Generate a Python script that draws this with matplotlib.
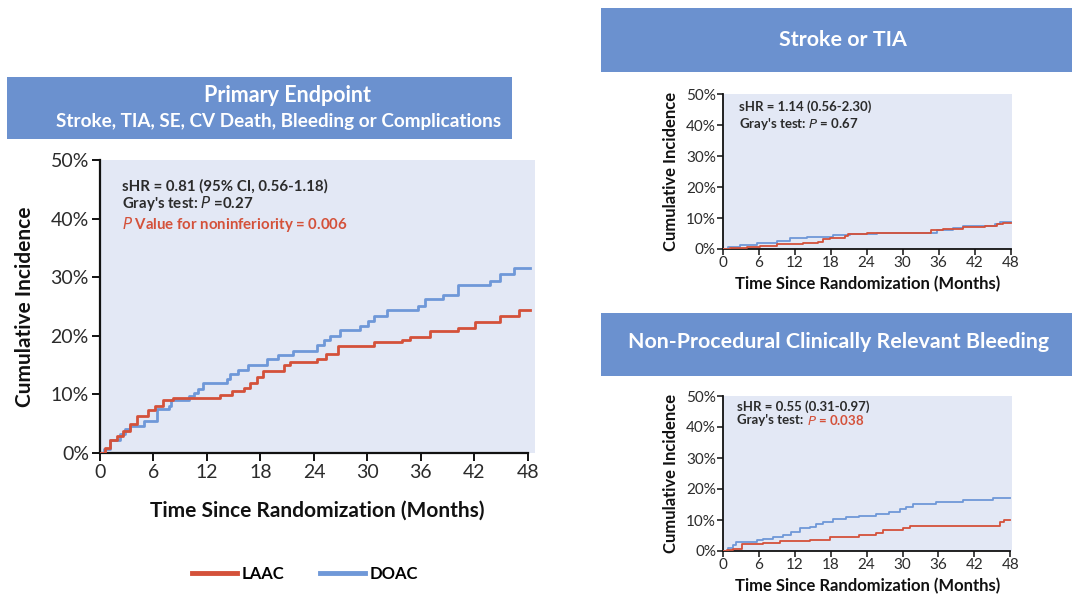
import matplotlib
matplotlib.use("Agg")
import matplotlib.pyplot as plt
from matplotlib.patches import Rectangle
from matplotlib.lines import Line2D
from matplotlib.ticker import FuncFormatter

plt.rcParams["font.family"] = ["Lato", "DejaVu Sans"]

W, H = 1072, 599
RED = "#d4513a"
BLUE = "#6f98d8"
HEAD = "#6b91cf"
BG = "#e3e8f5"
INK = "#2b2b2b"

# ── data (% cumulative incidence vs months) ───────────────────────────────────
main_laac_t = [0, 0.6, 1.1, 1.9, 2.6, 3.4, 4.1, 5.4, 6.2, 7.1, 8.2, 13.5, 14.8, 16.1,
               16.8, 17.6, 18.3, 20.6, 21.3, 24.3, 25.3, 26.7, 30.7, 33.9, 34.8, 37.0,
               40.2, 42.1, 44.9, 47.0, 48.2]
main_laac_y = [0, 0.9, 2.3, 2.9, 3.7, 4.9, 6.3, 7.4, 8.0, 9.0, 9.4, 9.9, 10.5, 11.1,
               12.0, 12.9, 14.0, 15.0, 15.5, 16.1, 16.9, 18.2, 18.9, 19.3, 19.8, 20.9,
               21.4, 22.4, 23.4, 24.4, 24.4]
main_doac_t = [0, 0.4, 1.1, 2.2, 2.8, 3.4, 4.9, 6.4, 7.7, 8.0, 10.0, 10.5, 11.0, 11.6,
               14.2, 14.6, 15.5, 16.6, 18.7, 20.0, 21.7, 24.3, 25.1, 25.8, 26.9, 29.2,
               30.1, 30.7, 32.2, 35.7, 36.5, 38.5, 40.2, 43.8, 44.9, 46.4, 48.2]
main_doac_y = [0, 0.7, 2.3, 3.3, 4.1, 4.6, 5.4, 7.5, 8.0, 9.1, 9.7, 10.3, 11.0, 12.0,
               12.6, 13.4, 14.2, 15.1, 16.1, 16.7, 17.4, 18.4, 19.3, 20.0, 21.0, 21.6,
               22.6, 23.4, 24.4, 25.1, 26.3, 27.0, 28.7, 29.4, 30.6, 31.5, 31.5]

stroke_laac_t = [0, 1.2, 4.0, 6.2, 9.0, 12.9, 13.4, 15.9, 16.8, 17.9, 20.4, 20.9, 24.0,
                 34.7, 36.8, 40.1, 43.7, 45.7, 46.8, 48.0]
stroke_laac_y = [0, 0.2, 0.8, 1.1, 1.5, 1.7, 2.1, 2.4, 3.2, 3.6, 4.2, 4.8, 5.1,
                 6.2, 6.6, 7.1, 7.5, 8.2, 8.4, 8.4]
stroke_doac_t = [0, 0.9, 2.9, 5.7, 9.0, 11.2, 14.0, 18.4, 21.2, 25.7, 35.7, 38.4, 40.1,
                 43.4, 45.4, 46.2, 48.0]
stroke_doac_y = [0, 0.5, 1.3, 1.8, 2.7, 3.5, 4.0, 4.5, 4.9, 5.1, 6.2, 6.7, 7.3,
                 7.5, 8.2, 8.6, 8.6]

bleed_laac_t = [0, 0.6, 1.7, 3.1, 6.7, 9.5, 14.5, 17.8, 22.8, 25.6, 26.7, 30.1, 31.2,
                46.2, 47.0, 48.0]
bleed_laac_y = [0, 0.4, 0.8, 2.1, 2.6, 3.2, 3.7, 4.6, 5.1, 5.9, 6.7, 7.3, 8.0,
                9.5, 10.0, 10.0]
bleed_doac_t = [0, 0.8, 1.7, 2.2, 5.6, 6.7, 8.4, 10.0, 11.4, 12.8, 14.5, 15.6, 16.7,
                18.4, 20.6, 22.8, 25.6, 27.8, 29.5, 30.6, 31.7, 35.6, 40.1, 45.1, 48.0]
bleed_doac_y = [0, 1.1, 1.8, 2.9, 3.5, 4.0, 4.6, 5.1, 6.2, 7.3, 7.8, 8.6, 9.5,
                10.2, 10.9, 11.4, 12.0, 12.7, 13.5, 14.3, 15.2, 15.8, 16.3, 17.0, 17.0]

x_ticks = [0, 6, 12, 18, 24, 30, 36, 42, 48]
y_ticks = [0, 10, 20, 30, 40, 50]
x_label = "Time Since Randomization (Months)"
y_label = "Cumulative Incidence"


def px_box(x0, y0, x1, y1):
    # pixel box (top-left origin) -> figure fraction [left, bottom, width, height]
    return [x0 / W, 1 - y1 / H, (x1 - x0) / W, (y1 - y0) / H]


def header(fig, x0, y0, x1, y1):
    l, b, w, h = px_box(x0, y0, x1, y1)
    fig.add_artist(Rectangle((l, b), w, h, transform=fig.transFigure,
                             facecolor=HEAD, edgecolor="none", zorder=0))


def panel(fig, box, xmax, laac, doac, lw, tick_fs, lab_fs, small):
    ax = fig.add_axes(px_box(*box))
    ax.set_facecolor(BG)
    ax.step(doac[0], doac[1], where="post", color=BLUE, lw=lw, zorder=3)
    ax.step(laac[0], laac[1], where="post", color=RED, lw=lw, zorder=3)
    ax.set_xlim(0, xmax)
    ax.set_ylim(0, 50)
    ax.set_xticks(x_ticks)
    ax.set_yticks(y_ticks)
    ax.yaxis.set_major_formatter(FuncFormatter(lambda v, p: f"{v:.0f}%"))
    for s in ["top", "right"]:
        ax.spines[s].set_visible(False)
    for s in ["left", "bottom"]:
        ax.spines[s].set_linewidth(1.6 if not small else 1.3)
        ax.spines[s].set_color("#111111")
    ax.spines["bottom"].set_bounds(0, 48)
    ax.tick_params(length=6 if not small else 4, width=1.4 if not small else 1.1,
                   labelsize=tick_fs, colors="#111111", labelcolor=INK,
                   pad=2 if not small else 1)
    ax.set_xlabel(x_label, fontsize=lab_fs, fontweight="bold", color="#111111",
                  labelpad=14 if not small else 4)
    ax.set_ylabel(y_label, fontsize=lab_fs, fontweight="bold", color="#111111",
                  labelpad=11 if not small else 5)
    return ax


fig = plt.figure(figsize=(W / 100, H / 100), dpi=100)

# ── Primary endpoint ──────────────────────────────────────────────────────────
header(fig, 7, 77, 512, 139)
fig.text(288 / W, 1 - 95 / H, "Primary Endpoint", ha="center", va="center",
         color="white", fontsize=15.5, fontweight="bold")
fig.text(279 / W, 1 - 121 / H, "Stroke, TIA, SE, CV Death, Bleeding or Complications",
         ha="center", va="center", color="white", fontsize=13.6, fontweight="bold")

ax1 = panel(fig, (100, 160, 535, 453), 48.8, (main_laac_t, main_laac_y),
            (main_doac_t, main_doac_y), 2.0, 14, 15, False)
ax1.text(0.05, 0.91, "sHR = 0.81 (95% CI, 0.56-1.18)", transform=ax1.transAxes,
         fontsize=10.8, fontweight="bold", color=INK, va="center")
ax1.text(0.05, 0.85, "Gray's test: $\\bf{\\it{P}}$ =0.27", transform=ax1.transAxes,
         fontsize=10.8, fontweight="bold", color=INK, va="center")
ax1.text(0.05, 0.78, "$\\bf{\\it{P}}$ Value for noninferiority = 0.006",
         transform=ax1.transAxes, fontsize=10.8, fontweight="bold", color=RED, va="center")

handles = [Line2D([], [], color=RED, lw=3.5), Line2D([], [], color=BLUE, lw=3.5)]
fig.legend(handles, ["LAAC", "DOAC"], loc="center", bbox_to_anchor=(305 / W, 1 - 574 / H),
           ncol=2, frameon=False, handlelength=2.7, handletextpad=0.3,
           columnspacing=2.1, prop={"weight": "bold", "size": 12})

# ── Stroke or TIA ─────────────────────────────────────────────────────────────
header(fig, 601, 8, 1072, 72)
fig.text(843 / W, 1 - 40 / H, "Stroke or TIA", ha="center", va="center",
         color="white", fontsize=15.4, fontweight="bold")
ax2 = panel(fig, (722.7, 94.3, 1011.7, 249), 48.2, (stroke_laac_t, stroke_laac_y),
            (stroke_doac_t, stroke_doac_y), 1.3, 11, 12, True)
ax2.text(0.055, 0.918, "sHR = 1.14 (0.56-2.30)", transform=ax2.transAxes,
         fontsize=9.5, fontweight="bold", color=INK, va="center")
ax2.text(0.055, 0.808, "Gray's test: $\\bf{\\it{P}}$ = 0.67", transform=ax2.transAxes,
         fontsize=9.5, fontweight="bold", color=INK, va="center")

# ── Non-procedural clinically relevant bleeding ───────────────────────────────
header(fig, 601, 313, 1072, 376)
fig.text(839 / W, 1 - 342 / H, "Non-Procedural Clinically Relevant Bleeding",
         ha="center", va="center", color="white", fontsize=15.4, fontweight="bold")
ax3 = panel(fig, (723, 396, 1011.5, 551), 48.2, (bleed_laac_t, bleed_laac_y),
            (bleed_doac_t, bleed_doac_y), 1.3, 11, 12, True)
ax3.text(0.05, 0.929, "sHR = 0.55 (0.31-0.97)", transform=ax3.transAxes,
         fontsize=9.5, fontweight="bold", color=INK, va="center")
t = ax3.text(0.05, 0.845, "Gray's test: ", transform=ax3.transAxes,
             fontsize=9.5, fontweight="bold", color=INK, va="center")
ax3.annotate("$\\bf{\\it{P}}$ = 0.038", xycoords=t, xy=(1, 0.5), va="center",
             fontsize=9.5, fontweight="bold", color=RED)

fig.savefig("out.png", dpi=100, facecolor="white")
